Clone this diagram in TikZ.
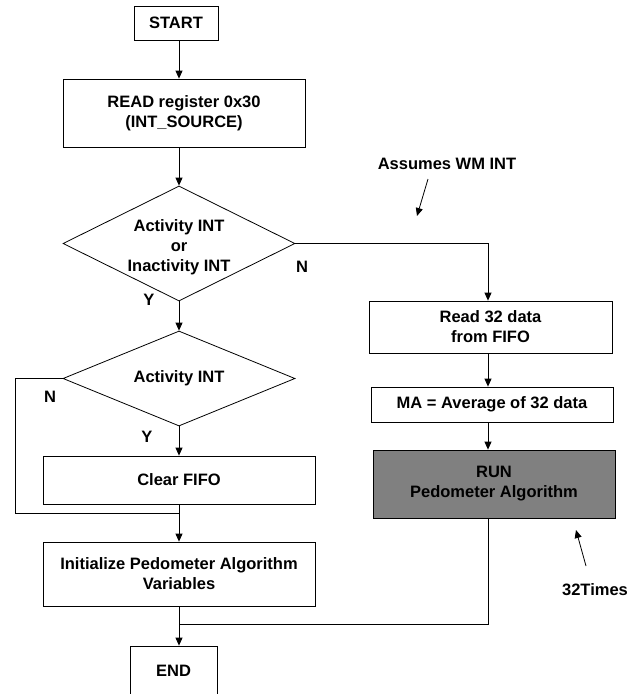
\documentclass[tikz,border=0pt]{standalone}
\usepackage{fontspec}
\setmainfont{Liberation Sans}
\usetikzlibrary{shapes.geometric,arrows.meta}
\definecolor{runfill}{RGB}{128,128,128}
\begin{document}
\begin{tikzpicture}[x=1pt,y=-1pt,
  font=\fontsize{16.5}{20}\selectfont\bfseries,
  line width=0.8pt,
  box/.style={draw,rectangle,inner sep=0pt,align=center},
  dec/.style={draw,diamond,shape aspect=2,inner sep=0pt,align=center,minimum width=232pt},
  arr/.style={-{Triangle[length=8pt,width=7pt]}},
  lbl/.style={inner sep=0pt}]
\useasboundingbox (0,0) rectangle (631,694);
% main column
\node[box,minimum width=84pt,minimum height=34pt] (start) at (176,23) {START};
\node[box,minimum width=242pt,minimum height=68pt] (read) at (184,113) {READ register 0x30\\(INT\_SOURCE)};
\node[dec,minimum height=115pt,label={[lbl,align=center,yshift=-4pt]center:Activity INT\\or\\Inactivity INT}] (d1) at (179,243.5) {};
\node[dec,minimum height=95pt] (d2) at (179,378.5) {Activity INT};
\node[box,minimum width=272pt,minimum height=48pt] (clear) at (179,480) {Clear FIFO};
\node[box,minimum width=272pt,minimum height=64pt] (init) at (179,574) {Initialize Pedometer Algorithm\\Variables};
\node[box,minimum width=87pt,minimum height=50pt] (end) at (173.5,671) {END};
% right column
\node[box,minimum width=243pt,minimum height=52pt] (rd) at (490.5,327) {Read 32 data\\from FIFO};
\node[box,minimum width=242pt,minimum height=35pt] (ma) at (492,404.5) {MA = Average of 32 data};
\node[box,fill=runfill,minimum width=242pt,minimum height=68pt] (run) at (494,484) {RUN\\Pedometer Algorithm};
% helper coordinates
\coordinate (mc) at (179,0);
\coordinate (rc) at (488,0);
\coordinate (j1) at (179,513);
\coordinate (j2) at (179,624);
\coordinate (lp) at (15,513);
% connectors
\draw[arr] (start.south -| mc) -- (read.north -| mc);
\draw[arr] (read.south -| mc) -- (d1.north);
\draw[arr] (d1.south) -- (d2.north);
\draw[arr] (d2.south) -- (clear.north);
\draw[arr] (clear.south) -- (init.north);
\draw[arr] (init.south -| mc) -- (end.north -| mc);
\draw[arr] (d1.east) -| (rd.north -| rc);
\draw[arr] (rd.south -| rc) -- (ma.north -| rc);
\draw[arr] (ma.south -| rc) -- (run.north -| rc);
\draw (run.south -| rc) |- (j2);
\draw (d2.west) -| (lp) -- (j1);
% labels
\node[lbl] (n1) at (302,267) {N};
\node[lbl] (y1) at (149,300) {Y};
\node[lbl] (n2) at (50,397) {N};
\node[lbl] (y2) at (147,437) {Y};
\node[lbl] (asm) at (447,164) {Assumes WM INT};
\node[lbl] (tm) at (595,590) {32Times};
\coordinate (a1s) at (428,179);
\coordinate (a1e) at (417,216);
\coordinate (a2s) at (586,566);
\coordinate (a2e) at (576,530);
\draw[arr] (a1s) -- (a1e);
\draw[arr] (a2s) -- (a2e);
\end{tikzpicture}
\end{document}
